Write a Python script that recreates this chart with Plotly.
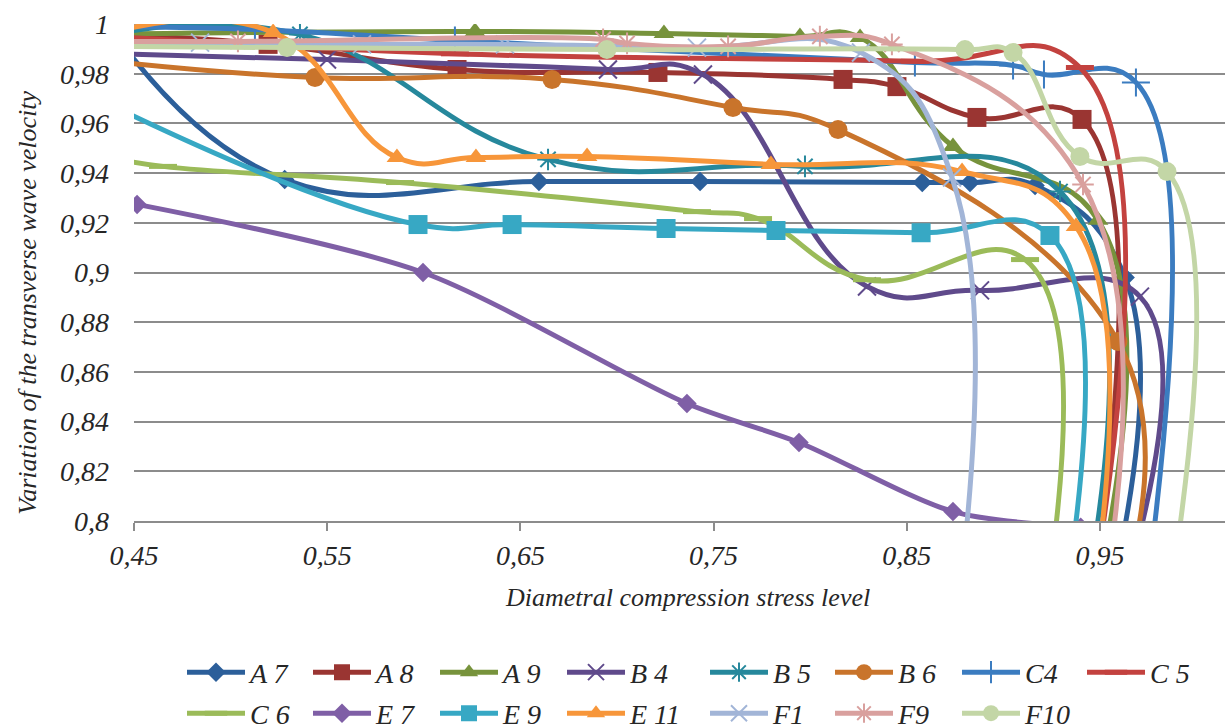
import plotly.graph_objects as go

# ---------------- data ----------------
a7_x = [0.44, 0.528, 0.6596, 0.743, 0.858, 0.8827, 0.9164, 0.963, 0.961]
a7_y = [0.996, 0.9374, 0.9366, 0.9366, 0.9362, 0.9362, 0.9350, 0.898, 0.79]

a8_x = [0.44, 0.5194, 0.6172, 0.7212, 0.817, 0.8449, 0.8863, 0.9407, 0.950]
a8_y = [0.9955, 0.9918, 0.9817, 0.9805, 0.9777, 0.9748, 0.9624, 0.9616, 0.79]

a9_x = [0.44, 0.6265, 0.7243, 0.7947, 0.8258, 0.8739, 0.949, 0.953]
a9_y = [0.996, 0.997, 0.9962, 0.995, 0.9946, 0.9507, 0.921, 0.79]

b4_x = [0.44, 0.5499, 0.6953, 0.7445, 0.8294, 0.8879, 0.9707, 0.969]
b4_y = [0.988, 0.9857, 0.9817, 0.9797, 0.8944, 0.8928, 0.8903, 0.79]

b5_x = [0.44, 0.5359, 0.6643, 0.7973, 0.9293, 0.947]
b5_y = [0.996, 0.9958, 0.9455, 0.9427, 0.9326, 0.79]

b6_x = [0.44, 0.5437, 0.6664, 0.76, 0.8144, 0.9593, 0.968]
b6_y = [0.9848, 0.9785, 0.9777, 0.9664, 0.9575, 0.8722, 0.79]

c4_x = [0.44, 0.5126, 0.6161, 0.8542, 0.905, 0.921, 0.9686, 0.977]
c4_y = [0.999, 0.9978, 0.9934, 0.9845, 0.9833, 0.9797, 0.9765, 0.79]

c5_x = [0.44, 0.6161, 0.8542, 0.9396, 0.950]
c5_y = [0.995, 0.988, 0.985, 0.9825, 0.79]

c6_x = [0.44, 0.465, 0.5877, 0.7414, 0.773, 0.8294, 0.9112, 0.926]
c6_y = [0.946, 0.9427, 0.9362, 0.9245, 0.9217, 0.8971, 0.9052, 0.79]

e7_x = [0.4516, 0.5996, 0.7362, 0.7942, 0.8739, 0.940]
e7_y = [0.9274, 0.900, 0.8473, 0.8316, 0.8038, 0.7975]

e9_x = [0.44, 0.597, 0.6457, 0.7254, 0.7823, 0.8574, 0.9241, 0.936]
e9_y = [0.9666, 0.9193, 0.9193, 0.9177, 0.9169, 0.916, 0.9149, 0.79]

e11_x = [0.44, 0.522, 0.5861, 0.627, 0.6845, 0.7797, 0.8786, 0.9376, 0.950]
e11_y = [0.997, 0.9966, 0.9463, 0.9463, 0.9467, 0.9435, 0.9406, 0.9185, 0.79]

f1_x = [0.44, 0.4842, 0.568, 0.642, 0.7414, 0.8263, 0.8734, 0.880]
f1_y = [0.9925, 0.9925, 0.9918, 0.9918, 0.9905, 0.9885, 0.9382, 0.79]

f9_x = [0.44, 0.5038, 0.6928, 0.7052, 0.7575, 0.805, 0.8423, 0.9412, 0.956]
f9_y = [0.993, 0.993, 0.9938, 0.9922, 0.991, 0.995, 0.9918, 0.9354, 0.79]

f10_x = [0.44, 0.5292, 0.6948, 0.8801, 0.905, 0.9396, 0.9847, 0.990]
f10_y = [0.991, 0.9905, 0.9897, 0.9897, 0.9885, 0.9467, 0.9406, 0.79]

series_names = ["A 7", "A 8", "A 9", "B 4", "B 5", "B 6", "C4", "C 5",
                "C 6", "E 7", "E 9", "E 11", "F1", "F9", "F10"]
series_x = [a7_x, a8_x, a9_x, b4_x, b5_x, b6_x, c4_x, c5_x,
            c6_x, e7_x, e9_x, e11_x, f1_x, f9_x, f10_x]
series_y = [a7_y, a8_y, a9_y, b4_y, b5_y, b6_y, c4_y, c5_y,
            c6_y, e7_y, e9_y, e11_y, f1_y, f9_y, f10_y]

y_ticks = [0.8, 0.82, 0.84, 0.86, 0.88, 0.9, 0.92, 0.94, 0.96, 0.98, 1.0]
y_tick_labels = ["0,8", "0,82", "0,84", "0,86", "0,88", "0,9", "0,92", "0,94", "0,96", "0,98", "1"]
x_ticks = [0.45, 0.55, 0.65, 0.75, 0.85, 0.95]
x_tick_labels = ["0,45", "0,55", "0,65", "0,75", "0,85", "0,95"]

# ---------------- styles ----------------
styles = {
    "A 7": dict(color="#2C5F9A", symbol="diamond", size=15, open=False),
    "A 8": dict(color="#9A3532", symbol="square", size=19, open=False),
    "A 9": dict(color="#77933C", symbol="triangle-up", size=18, open=False),
    "B 4": dict(color="#5F4A8B", symbol="x-thin", size=18, open=True, lw=2),
    "B 5": dict(color="#26889C", symbol="asterisk", size=18, open=True, lw=2),
    "B 6": dict(color="#C9742B", symbol="circle", size=19, open=False),
    "C4": dict(color="#3B7CC0", symbol="cross-thin", size=20, open=True, lw=2),
    "C 5": dict(color="#C3423F", symbol="line-ew", size=20, open=True, lw=5),
    "C 6": dict(color="#9BBB59", symbol="line-ew", size=20, open=True, lw=5),
    "E 7": dict(color="#7F5FA6", symbol="diamond", size=15, open=False, smooth=0.8),
    "E 9": dict(color="#37A8C4", symbol="square", size=19, open=False),
    "E 11": dict(color="#F7963A", symbol="triangle-up", size=18, open=False),
    "F1": dict(color="#A2B5D7", symbol="x-thin", size=18, open=True, lw=2),
    "F9": dict(color="#D9A09E", symbol="asterisk", size=18, open=True, lw=2),
    "F10": dict(color="#C3D6A6", symbol="circle", size=19, open=False),
}
# legend columns (row 1 = first 8 series, row 2 = remaining 7)
col_widths = [53, 54, 54, 70, 52, 54, 52, 60]

FONT = "Liberation Serif"
TXT = "#262626"

fig = go.Figure()
for i, (name, xs, ys) in enumerate(zip(series_names, series_x, series_y)):
    st = styles[name]
    if st["open"]:
        marker = dict(symbol=st["symbol"], size=st["size"], color=st["color"],
                      line=dict(color=st["color"], width=st["lw"]))
    else:
        marker = dict(symbol=st["symbol"], size=st["size"], color=st["color"],
                      line=dict(width=0))
    row = 0 if i < 8 else 1
    col = i if i < 8 else i - 8
    fig.add_trace(go.Scatter(
        x=xs, y=ys, name=name, mode="lines+markers",
        line=dict(color=st["color"], width=5, shape="spline",
                  smoothing=st.get("smooth", 1.3)),
        marker=marker, cliponaxis=True,
        legend="legend" if row == 0 else "legend2",
        legendwidth=col_widths[col],
    ))

legend_common = dict(
    orientation="h", xanchor="left", yanchor="top",
    font=dict(family=FONT, size=28, color=TXT, style="italic"),
    itemwidth=58, bgcolor="rgba(0,0,0,0)", borderwidth=0,
)

fig.update_layout(
    width=1225, height=726,
    margin=dict(l=134, r=0, t=24, b=205, autoexpand=False),
    paper_bgcolor="white", plot_bgcolor="white",
    font=dict(family=FONT, size=28, color=TXT, style="italic"),
    showlegend=True,
    legend=dict(x=0.044, y=-0.2544, **legend_common),
    legend2=dict(x=0.044, y=-0.337, **legend_common),
    xaxis=dict(
        range=[0.45, 1.0147], tickvals=x_ticks, ticktext=x_tick_labels,
        showgrid=False, zeroline=False,
        showline=True, linecolor="#8C8C8C", linewidth=2,
        ticks="outside", ticklen=8, tickwidth=2, tickcolor="#8C8C8C",
        tickfont=dict(family=FONT, size=28, color=TXT, style="italic"),
    ),
    yaxis=dict(
        range=[0.8, 1.0], tickvals=y_ticks, ticktext=y_tick_labels,
        showgrid=True, gridcolor="#8C8C8C", gridwidth=2,
        zeroline=False, showline=False, ticks="",
        ticklabelstandoff=24,
        tickfont=dict(family=FONT, size=28, color=TXT, style="italic"),
    ),
    annotations=[
        dict(text="Variation of the transverse wave velocity", textangle=-90,
             xref="paper", yref="paper", x=-0.0972, y=0.439,
             xanchor="center", yanchor="middle", showarrow=False,
             font=dict(family=FONT, size=26, color=TXT, style="italic")),
        dict(text="Diametral compression stress level",
             xref="paper", yref="paper", x=0.507, y=-0.153,
             xanchor="center", yanchor="middle", showarrow=False,
             font=dict(family=FONT, size=26, color=TXT, style="italic")),
    ],
)

fig.write_html("out.html",
               config={"displayModeBar": False},
               post_script="document.body.style.margin='0';"
                           "document.body.style.overflow='hidden';")
